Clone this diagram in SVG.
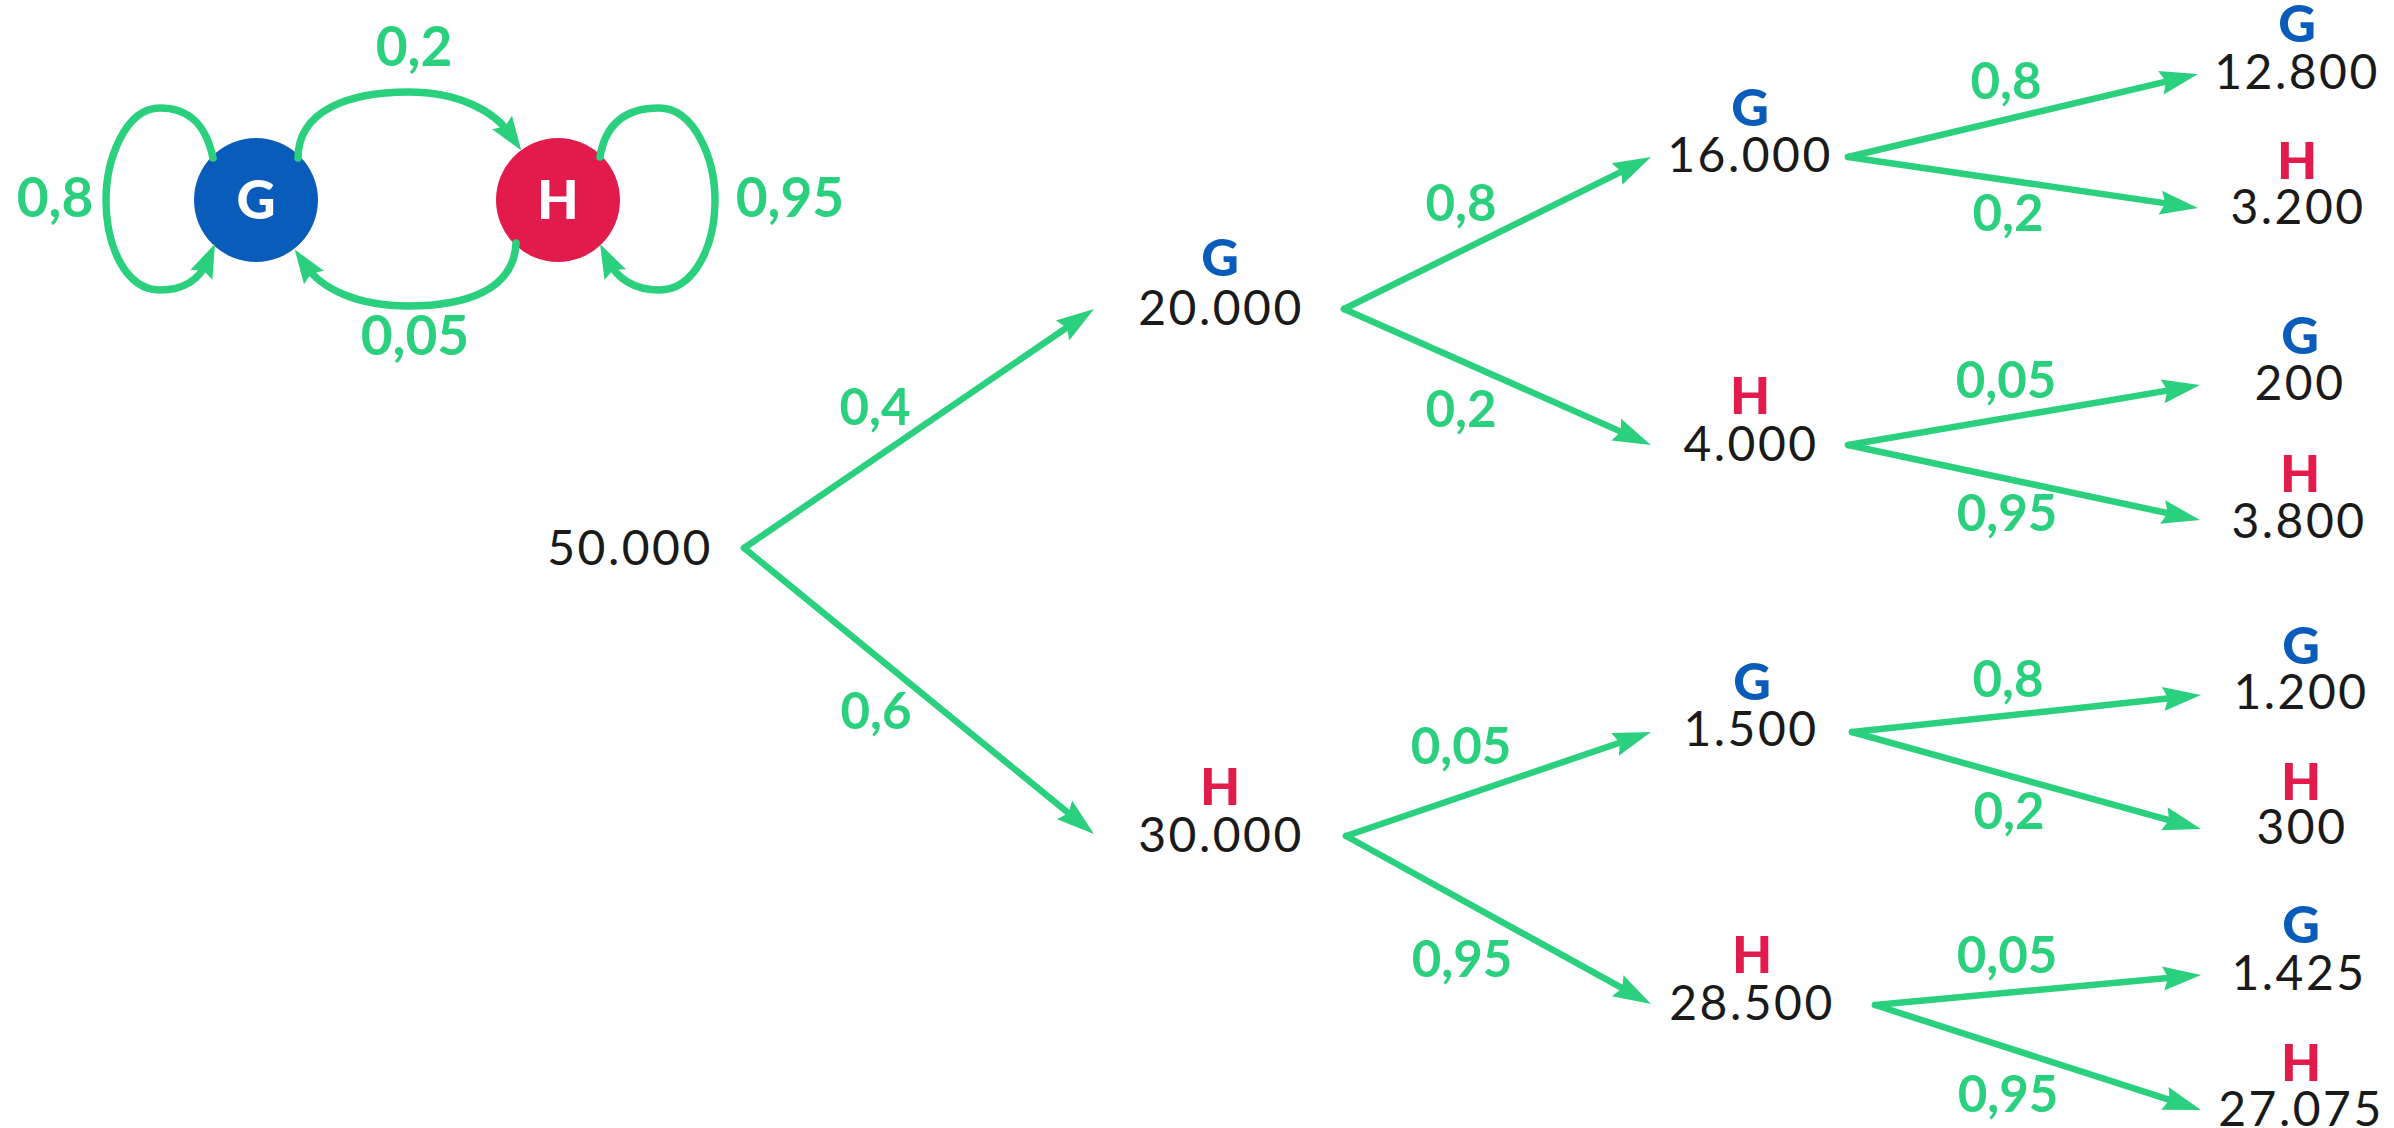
<svg xmlns="http://www.w3.org/2000/svg" width="2394" height="1128" viewBox="0 0 2394 1128">
<style>
.e{fill:none;stroke:#2bd07f;stroke-width:6.5;stroke-linecap:round;marker-end:url(#ah)}
.a{stroke-width:7.5;marker-end:url(#ah2)}
.p{fill:#2bd07f;font-family:Lato,"Open Sans",sans-serif;font-weight:700;font-size:51px;text-anchor:middle}
.pt{font-size:55px}
.n{fill:#1a1a1a;font-family:Lato,"Open Sans",sans-serif;font-weight:400;font-size:48px;letter-spacing:2.5px;text-anchor:middle}
.g{fill:#0a5cba;font-family:Lato,"Open Sans",sans-serif;font-weight:900;font-size:52px;text-anchor:middle}
.h{fill:#e31b4d;font-family:Lato,"Open Sans",sans-serif;font-weight:900;font-size:52px;text-anchor:middle}
.w{fill:#fff;font-family:Lato,"Open Sans",sans-serif;font-weight:900;font-size:54px;text-anchor:middle}
</style>
<defs>
<marker id="ah" markerUnits="userSpaceOnUse" orient="auto" refX="0" refY="0" markerWidth="42" markerHeight="28" viewBox="-19 -14 42 28" overflow="visible">
<path d="M20,0 L-18,-12 L-13,0 L-18,12 Z" fill="#2bd07f"/>
</marker>
<marker id="ah2" markerUnits="userSpaceOnUse" orient="auto" refX="0" refY="0" markerWidth="40" markerHeight="28" viewBox="-17 -14 40 28" overflow="visible">
<path d="M20,0 L-14,-12 L-9,0 L-14,12 Z" fill="#2bd07f"/>
</marker>
</defs>
<g id="state-G"><circle cx="256" cy="200" r="62" fill="#0a5cba"/><text class="w" x="256" y="219">G</text></g>
<g id="state-H"><circle cx="558" cy="200" r="62" fill="#e31b4d"/><text class="w" x="558" y="219">H</text></g>
<g id="connectors">
<path class="e a" d="M298,158 C298,110 350,92 408,92 C460,92 495,112 510,134"/>
<path class="e a" d="M516,243 C514,290 466,306 408,306 C356,306 321,288 306,266"/>
<path class="e a" d="M213,158 C205,120 185,108 160,108 C125,108 106,160 106,200 C106,245 125,290 160,290 C185,290 200,278 207,262"/>
<path class="e a" d="M600,157 C606,120 630,108 659,108 C695,108 715,160 715,200 C715,245 695,290 659,290 C634,290 617,278 609,262"/>
<path class="e" d="M744,548 L1077.5,320.3"/>
<path class="e" d="M744,548 L1078.5,821.3"/>
<path class="e" d="M1344,309 L1633.1,165.9"/>
<path class="e" d="M1344,309 L1632.7,436.9"/>
<path class="e" d="M1346,836 L1632.1,738.5"/>
<path class="e" d="M1346,836 L1633.5,994.4"/>
<path class="e" d="M1848,157 L2178.5,78.6"/>
<path class="e" d="M1848,157 L2178.2,205.1"/>
<path class="e" d="M1848,445 L2180.3,388.4"/>
<path class="e" d="M1848,445 L2180.4,515.8"/>
<path class="e" d="M1852,732 L2181.1,697.1"/>
<path class="e" d="M1852,732 L2181.7,823.6"/>
<path class="e" d="M1875,1005 L2181.1,976.8"/>
<path class="e" d="M1875,1005 L2182,1103.9"/>
</g>
<g id="edge-labels">
<text class="p pt" x="414" y="66">0,2</text>
<text class="p pt" x="55" y="217">0,8</text>
<text class="p pt" x="790" y="217">0,95</text>
<text class="p pt" x="415" y="355">0,05</text>
<text class="p" x="875" y="425">0,4</text>
<text class="p" x="876" y="729">0,6</text>
<text class="p" x="1461" y="221">0,8</text>
<text class="p" x="1461" y="427">0,2</text>
<text class="p" x="1461" y="764">0,05</text>
<text class="p" x="1462" y="977">0,95</text>
<text class="p" x="2006" y="99">0,8</text>
<text class="p" x="2008" y="231">0,2</text>
<text class="p" x="2006" y="398">0,05</text>
<text class="p" x="2007" y="531">0,95</text>
<text class="p" x="2008" y="697">0,8</text>
<text class="p" x="2009" y="829">0,2</text>
<text class="p" x="2007" y="973">0,05</text>
<text class="p" x="2008" y="1112">0,95</text>
</g>
<g id="root"><text class="n" x="630" y="565">50.000</text></g>
<g id="n-G1"><text class="g" x="1220" y="276">G</text><text class="n" x="1221" y="325">20.000</text></g>
<g id="n-H1"><text class="h" x="1220" y="805">H</text><text class="n" x="1221" y="852">30.000</text></g>
<g id="n-GG"><text class="g" x="1750" y="126">G</text><text class="n" x="1750" y="172">16.000</text></g>
<g id="n-GH"><text class="h" x="1750" y="414">H</text><text class="n" x="1751" y="461">4.000</text></g>
<g id="n-HG"><text class="g" x="1752" y="700">G</text><text class="n" x="1751" y="746">1.500</text></g>
<g id="n-HH"><text class="h" x="1752" y="973">H</text><text class="n" x="1752" y="1020">28.500</text></g>
<g id="n-GGG"><text class="g" x="2297" y="42">G</text><text class="n" x="2297" y="89">12.800</text></g>
<g id="n-GGH"><text class="h" x="2297" y="179">H</text><text class="n" x="2298" y="224">3.200</text></g>
<g id="n-GHG"><text class="g" x="2300" y="354">G</text><text class="n" x="2300" y="400">200</text></g>
<g id="n-GHH"><text class="h" x="2300" y="492">H</text><text class="n" x="2299" y="538">3.800</text></g>
<g id="n-HGG"><text class="g" x="2301" y="664">G</text><text class="n" x="2301" y="709">1.200</text></g>
<g id="n-HGH"><text class="h" x="2301" y="800">H</text><text class="n" x="2302" y="844">300</text></g>
<g id="n-HHG"><text class="g" x="2301" y="943">G</text><text class="n" x="2299" y="990">1.425</text></g>
<g id="n-HHH"><text class="h" x="2301" y="1081">H</text><text class="n" x="2301" y="1126">27.075</text></g>
</svg>
